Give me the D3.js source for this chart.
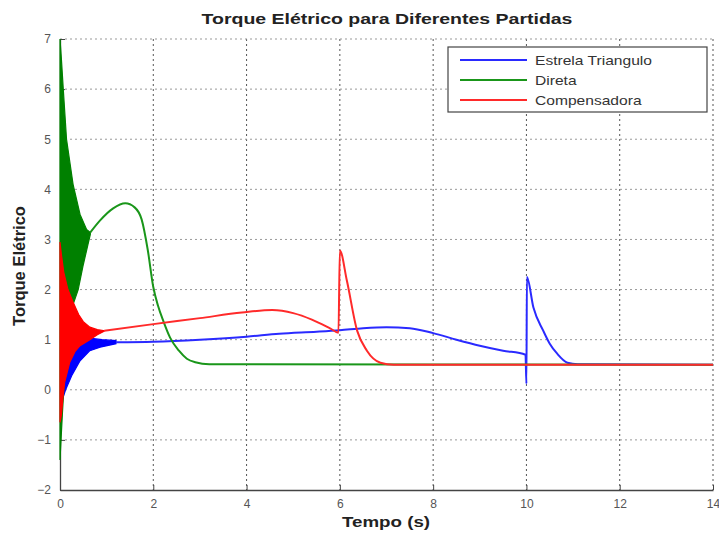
<!DOCTYPE html>
<html>
<head>
<meta charset="utf-8">
<script src="https://cdnjs.cloudflare.com/ajax/libs/d3/7.8.5/d3.min.js"></script>
<style>
  body { margin: 0; background: #fff; }
  text { font-family: "Liberation Sans", Arial, sans-serif; }
</style>
</head>
<body>
<div id="chart"></div>
<script>
// Torque eletrico - tres tipos de partida

var xTicks = [0, 2, 4, 6, 8, 10, 12, 14];
var yTicks = [-2, -1, 0, 1, 2, 3, 4, 5, 6, 7];
var seriesNames = ['Estrela Triangulo', 'Direta', 'Compensadora'];

// oscillating start: upper and lower envelope of each band  [t, torque]
var diretaBandTop = [[0, 7.0], [0.03, 6.6], [0.07, 6.0], [0.14, 5.0], [0.28, 4.1], [0.43, 3.5], [0.57, 3.2], [0.65, 3.14]];
var diretaBandBottom = [[0, -1.4], [0.05, -0.5], [0.1, 0.3], [0.2, 1.2], [0.28, 1.7], [0.39, 2.0], [0.5, 2.5], [0.6, 2.9], [0.65, 3.1]];

var compBandTop = [[0, 2.95], [0.03, 2.7], [0.08, 2.35], [0.17, 2.0], [0.28, 1.75], [0.4, 1.5], [0.5, 1.36], [0.64, 1.25], [0.8, 1.2], [0.95, 1.18]];
var compBandBottom = [[0, -0.65], [0.03, -0.5], [0.07, -0.1], [0.1, 0.15], [0.21, 0.55], [0.32, 0.76], [0.43, 0.88], [0.64, 1.0], [0.8, 1.1], [0.95, 1.17]];

var estrelaBandTop = [[0.05, 0.2], [0.1, 0.5], [0.2, 0.8], [0.4, 0.98], [0.64, 1.03], [0.9, 1.0], [1.2, 0.98]];
var estrelaBandBottom = [[0.05, -0.2], [0.12, 0.0], [0.25, 0.28], [0.43, 0.58], [0.64, 0.78], [0.86, 0.85], [1.2, 0.92]];

// after the oscillation: plain lines
var estrelaLine = [[1.2, 0.95], [2, 0.96], [3, 1.0], [4, 1.06], [4.7, 1.12], [5.5, 1.16], [6, 1.19], [6.5, 1.23],
    [7.0, 1.25], [7.5, 1.23], [8, 1.13], [8.5, 1.0], [9, 0.88], [9.5, 0.78], [9.98, 0.7], [10, 0.12],
    [10.01, 2.25], [10.15, 1.64], [10.36, 1.18], [10.5, 0.92], [10.66, 0.72], [10.88, 0.54], [11.1, 0.51], [14, 0.5]];
var diretaLine = [[0.65, 3.14], [0.86, 3.38], [1.14, 3.62], [1.4, 3.72], [1.6, 3.64], [1.75, 3.4], [1.88, 2.8],
    [2.0, 2.05], [2.1, 1.68], [2.22, 1.36], [2.36, 1.04], [2.55, 0.78], [2.72, 0.62], [2.9, 0.55], [3.2, 0.51], [14, 0.5]];
var compLine = [[0.95, 1.18], [2, 1.31], [3, 1.43], [3.9, 1.54], [4.55, 1.59], [5.0, 1.53], [5.4, 1.4], [5.8, 1.22],
    [5.97, 1.14], [6.0, 2.78], [6.15, 2.18], [6.37, 1.18], [6.58, 0.78], [6.87, 0.54], [7.15, 0.5], [14, 0.5]];

var colors = ['#2a2aff', '#1a961a', '#ff2a2a'];
var bandColors = ['#0000ff', '#008000', '#ff0000'];

var svgWidth = 719;
var svgHeight = 534;
var margin = { top: 39, right: 6, bottom: 44, left: 60 };
var chartW = svgWidth - margin.left - margin.right;
var chartH = svgHeight - margin.top - margin.bottom;

var svg = d3.select('#chart')
    .append('svg')
    .attr('width', svgWidth)
    .attr('height', svgHeight);

var g = svg.append('g')
    .attr('transform', `translate(${margin.left}, ${margin.top})`);

var xScale = d3.scaleLinear().domain([0, 14]).range([0, chartW]);
var yScale = d3.scaleLinear().domain([-2, 7]).range([chartH, 0]);

// grid (dotted)
g.selectAll('.vgrid')
    .data(xTicks.slice(1))
    .enter()
    .append('line')
    .attr('x1', d => xScale(d)).attr('x2', d => xScale(d))
    .attr('y1', 0).attr('y2', chartH)
    .attr('stroke', '#555')
    .attr('stroke-dasharray', '2,3');
g.selectAll('.hgrid')
    .data(yTicks.slice(1))
    .enter()
    .append('line')
    .attr('x1', 0).attr('x2', chartW)
    .attr('y1', d => yScale(d)).attr('y2', d => yScale(d))
    .attr('stroke', '#999')
    .attr('stroke-dasharray', '2,3');

// axes, ticks inside like matlab
var bottomAxis = d3.axisBottom(xScale).tickValues(xTicks).tickSizeInner(-5).tickSizeOuter(0).tickPadding(9);
var leftAxis = d3.axisLeft(yScale).tickValues(yTicks).tickSizeInner(-5).tickSizeOuter(0).tickPadding(9);

var xAxis = g.append('g')
    .attr('transform', `translate(0, ${chartH})`)
    .call(bottomAxis);
var yAxis = g.append('g')
    .call(leftAxis);

[xAxis, yAxis].forEach(function(ax) {
    ax.select('.domain').attr('stroke', '#444').attr('stroke-width', 1.3);
    ax.selectAll('.tick line').attr('stroke', '#444');
    ax.selectAll('.tick text')
        .attr('fill', '#555')
        .attr('font-size', '12px')
        .style('font-family', '"Liberation Sans", Arial, sans-serif');
});

// bands then lines, blue -> green -> red (red ends on top)
var polyLine = d3.line()
    .x(d => xScale(d[0]))
    .y(d => yScale(d[1]));
var smoothLine = d3.line()
    .x(d => xScale(d[0]))
    .y(d => yScale(d[1]))
    .curve(d3.curveMonotoneX);

var bands = [
    estrelaBandTop.concat(estrelaBandBottom.slice().reverse()),
    diretaBandTop.concat(diretaBandBottom.slice().reverse()),
    compBandTop.concat(compBandBottom.slice().reverse())
];
var lines = [estrelaLine, diretaLine, compLine];

for (var i = 0; i < 3; i++) {
    g.append('path')
        .attr('d', polyLine(bands[i]) + 'Z')
        .attr('fill', bandColors[i])
        .attr('stroke', bandColors[i])
        .attr('stroke-width', 1.2);
    g.append('path')
        .attr('d', smoothLine(lines[i]))
        .attr('fill', 'none')
        .attr('stroke', colors[i])
        .attr('stroke-width', 2)
        .attr('stroke-linejoin', 'round');
}

// legend
var legend = svg.append('g')
    .attr('transform', 'translate(448, 47)');
legend.append('rect')
    .attr('width', 259)
    .attr('height', 65)
    .attr('fill', '#fff')
    .attr('stroke', '#444')
    .attr('stroke-width', 1.2);
seriesNames.forEach(function(name, i) {
    legend.append('line')
        .attr('x1', 12).attr('x2', 79)
        .attr('y1', 13 + i * 20).attr('y2', 13 + i * 20)
        .attr('stroke', colors[i])
        .attr('stroke-width', 2);
    // the picture is a bit stretched sideways, so the text is too
    legend.append('text')
        .attr('transform', `translate(87, ${13 + i * 20}) scale(1.2, 1)`)
        .attr('dy', '0.35em')
        .attr('font-size', '13px')
        .attr('fill', '#333')
        .text(name);
});

// titles
svg.append('text')
    .attr('transform', 'translate(387, 24) scale(1.3, 1)')
    .attr('text-anchor', 'middle')
    .attr('font-size', '15px')
    .attr('font-weight', 'bold')
    .attr('fill', '#222')
    .text('Torque Elétrico para Diferentes Partidas');

svg.append('text')
    .attr('transform', 'translate(386, 527) scale(1.25, 1)')
    .attr('text-anchor', 'middle')
    .attr('font-size', '15px')
    .attr('font-weight', 'bold')
    .attr('fill', '#222')
    .text('Tempo (s)');

svg.append('text')
    .attr('transform', 'translate(25, 266) rotate(-90)')
    .attr('text-anchor', 'middle')
    .attr('font-size', '16.5px')
    .attr('font-weight', 'bold')
    .attr('fill', '#222')
    .text('Torque Elétrico');
</script>
</body>
</html>
